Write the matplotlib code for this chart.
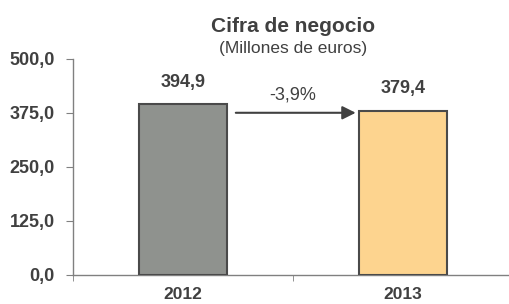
import matplotlib as mpl
import matplotlib.pyplot as plt

mpl.rcParams['font.family'] = ['Liberation Sans', 'DejaVu Sans']

years = ['2012', '2013']
values = [394.9, 379.4]
labels = ['394,9', '379,4']
change = '-3,9%'
yticks = [0, 125, 250, 375, 500]
ytick_labels = ['0,0', '125,0', '250,0', '375,0', '500,0']

txt = '#404040'
fig = plt.figure(figsize=(5.09, 3.04), dpi=100)
ax = fig.add_axes([73/509, 29/304, 440/509, 216/304])

xs = range(len(years))
ax.bar(xs, values, width=0.4, color=['#8f928e', '#fdd48f'],
       edgecolor='#4a4a4a', linewidth=1.5, zorder=3)

for x, v, l in zip(xs, values, labels):
    ax.annotate(l, (x, v), xytext=(0, 10), textcoords='offset points',
                ha='center', va='bottom', fontsize=13, fontweight='bold', color=txt)

ax.annotate('', xy=(0.785, 375.5), xytext=(0.24, 375.5),
            arrowprops=dict(arrowstyle='-|>', color='#404040', lw=1.5,
                            mutation_scale=20, shrinkA=0, shrinkB=0))
ax.text(0.5, 417, change, ha='center', va='center', fontsize=13, color=txt)

ax.set_xlim(-0.5, 1.5)
ax.set_ylim(0, 500)
ax.set_yticks(yticks)
ax.set_yticklabels(ytick_labels, fontsize=13, fontweight='bold', color=txt)
ax.set_xticks(list(xs))
ax.set_xticklabels(years, fontsize=12.5, fontweight='bold', color=txt)
ax.set_xticks([-0.5, 0.5, 1.5], minor=True)
ax.tick_params(axis='x', which='major', length=0, pad=8.5)
ax.tick_params(axis='x', which='minor', length=4, color='#808080', direction='out')
ax.tick_params(axis='y', length=5, color='#808080', pad=8)
for s in ['top', 'right']:
    ax.spines[s].set_visible(False)
for s in ['left', 'bottom']:
    ax.spines[s].set_color('#808080')
    ax.spines[s].set_linewidth(1)

fig.text(293/509, 1 - 27/304, 'Cifra de negocio', ha='center', va='center',
         fontsize=15, fontweight='bold', color=txt)
fig.text(293/509, 1 - 48/304, '(Millones de euros)', ha='center', va='center',
         fontsize=12.5, color=txt)

fig.savefig('out.png', dpi=100)
